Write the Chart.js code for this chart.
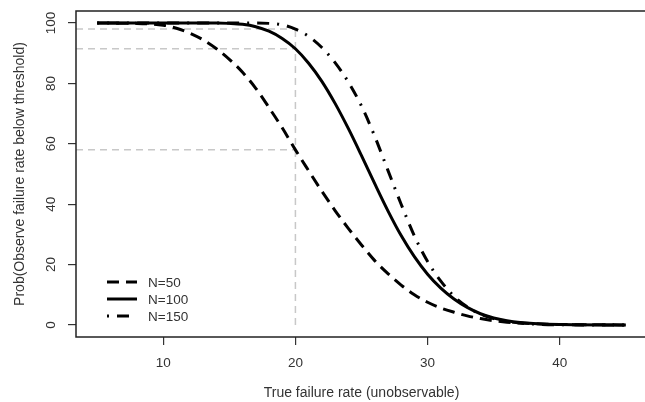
<!DOCTYPE html>
<html>
<head>
<meta charset="utf-8">
<script src="https://cdn.jsdelivr.net/npm/chart.js@4.4.1/dist/chart.umd.min.js"></script>
<style>
  html, body { margin: 0; padding: 0; background: #fff; overflow: hidden; }
  #wrap { width: 660px; height: 402px; }
</style>
</head>
<body>
<div id="wrap"><canvas id="c" width="660" height="402"></canvas></div>
<script>
// ---- Data ----
const xValues   = [5, 8, 10, 11, 12, 13, 14, 15, 16, 17, 18, 19, 20, 21, 22, 23, 24, 25, 26, 27, 28, 29, 30, 31, 32, 33, 34, 35, 36, 37, 38, 40, 45];
const probN50   = [100, 99.9, 99.3, 98.3, 96.7, 94.5, 91.6, 88.0, 83.7, 78.4, 72.0, 65.3, 58.0, 51.1, 44.3, 37.9, 32.0, 26.5, 21.3, 17.0, 13.2, 10.0, 7.5, 5.6, 4.2, 3.0, 2.1, 1.4, 0.9, 0.6, 0.4, 0.15, 0];
const probN100  = [100, 100, 100, 100, 100, 100, 100, 99.9, 99.6, 98.8, 97.3, 94.9, 91.5, 86.7, 80.7, 73.4, 65.1, 56.1, 46.8, 37.8, 29.6, 22.6, 16.8, 12.2, 8.6, 5.8, 3.7, 2.3, 1.4, 0.8, 0.45, 0.12, 0];
const probN150  = [100, 100, 100, 100, 100, 100, 100, 100, 100, 100, 99.9, 99.4, 98.0, 95.6, 91.9, 86.9, 80.5, 72.5, 62.5, 51.2, 40.0, 29.5, 21.0, 14.5, 9.5, 6.0, 3.6, 2.1, 1.2, 0.6, 0.3, 0.05, 0];
const seriesLabels = ["N=50", "N=100", "N=150"];
const refX      = 20;               // vertical reference at true rate 20
const refLevels = [58, 91.5, 98];   // horizontal reference levels
const xTicks    = [10, 20, 30, 40];
const yTicks    = [0, 20, 40, 60, 80, 100];
const xTitle    = "True failure rate (unobservable)";
const yTitle    = "Prob(Observe failure rate below threshold)";

// ---- Styling ----
const FONT = '"Liberation Sans", Arial, sans-serif';
const TXT = '#333';
const TICK_PX = 13.5, TITLE_PX = 14;
const dashes = [[12, 7], [], [2, 8, 12, 8]];
const seriesData = [probN50, probN100, probN150];

const toPts = (ys) => xValues.map((x, i) => ({ x: x, y: ys[i] }));

const datasets = [];
seriesData.forEach((ys, i) => {
  datasets.push({
    label: seriesLabels[i],
    data: toPts(ys),
    borderColor: '#000',
    borderWidth: 3,
    borderDash: dashes[i],
    borderCapStyle: 'butt',
    pointRadius: 0,
    cubicInterpolationMode: 'monotone',
    fill: false,
    order: 1
  });
});
const X_MIN = 3.4, X_MAX = 46.6, Y_MIN = -4, Y_MAX = 104;
// reference lines (gray dashed)
datasets.push({
  label: 'ref-v',
  data: [{ x: refX, y: 0 }, { x: refX, y: Math.max(...refLevels) }],
  borderColor: '#c8c8c8', borderWidth: 1.5, borderDash: [7, 5],
  pointRadius: 0, fill: false, order: 10
});
refLevels.forEach((lv) => {
  datasets.push({
    label: 'ref-h',
    data: [{ x: X_MIN, y: lv }, { x: refX, y: lv }],
    borderColor: '#c8c8c8', borderWidth: 1.5, borderDash: [7, 5],
    pointRadius: 0, fill: false, order: 10
  });
});

const decor = {
  id: 'decor',
  afterDatasetsDraw(chart) {
    const ctx = chart.ctx;
    const a = chart.chartArea;
    const ys = chart.scales.y;
    ctx.save();
    // box
    ctx.strokeStyle = '#222';
    ctx.lineWidth = 1.5;
    ctx.setLineDash([]);
    ctx.strokeRect(a.left, a.top, a.right - a.left, a.bottom - a.top);

    // y tick labels (rotated like R)
    ctx.fillStyle = TXT;
    ctx.font = TICK_PX + 'px ' + FONT;
    ctx.textAlign = 'center';
    ctx.textBaseline = 'middle';
    ys.ticks.forEach((t) => {
      const py = ys.getPixelForValue(t.value);
      ctx.save();
      ctx.translate(51, py);
      ctx.rotate(-Math.PI / 2);
      ctx.fillText(String(t.value), 0, 0);
      ctx.restore();
    });

    // axis titles
    ctx.font = TITLE_PX + 'px ' + FONT;
    ctx.fillText(xTitle, (a.left + a.right) / 2, 393);
    ctx.save();
    ctx.translate(20, (a.top + a.bottom) / 2);
    ctx.rotate(-Math.PI / 2);
    ctx.fillText(yTitle, 0, 0);
    ctx.restore();

    // legend
    ctx.font = TICK_PX + 'px ' + FONT;
    const lx0 = 107, lx1 = 137, rows = [282, 299, 316];
    seriesLabels.forEach((lab, i) => {
      ctx.beginPath();
      ctx.setLineDash(dashes[i]);
      ctx.lineWidth = 3;
      ctx.lineCap = 'butt';
      ctx.strokeStyle = '#000';
      ctx.moveTo(lx0, rows[i]);
      ctx.lineTo(lx1, rows[i]);
      ctx.stroke();
      ctx.setLineDash([]);
      ctx.textAlign = 'left';
      ctx.fillText(lab, 148, rows[i] + 1);
    });
    ctx.restore();
  }
};

new Chart(document.getElementById('c'), {
  type: 'line',
  data: { datasets: datasets },
  plugins: [decor],
  options: {
    responsive: false,
    animation: false,
    devicePixelRatio: 1,
    layout: { padding: { left: 0, top: 11, right: 13, bottom: 0 } },
    plugins: { legend: { display: false }, tooltip: { enabled: false } },
    scales: {
      x: {
        type: 'linear', min: X_MIN, max: X_MAX,
        afterBuildTicks: (s) => { s.ticks = xTicks.map(v => ({ value: v })); },
        afterFit: (s) => { s.height = 65; },
        border: { display: false },
        grid: { drawOnChartArea: false, drawTicks: true, tickLength: 8, tickColor: '#333', lineWidth: 1.2 },
        ticks: { color: TXT, font: { family: FONT, size: TICK_PX }, padding: 10, maxRotation: 0, autoSkip: false }
      },
      y: {
        type: 'linear', min: Y_MIN, max: Y_MAX,
        afterBuildTicks: (s) => { s.ticks = yTicks.map(v => ({ value: v })); },
        afterFit: (s) => { s.width = 76; },
        border: { display: false },
        grid: { drawOnChartArea: false, drawTicks: true, tickLength: 8, tickColor: '#333', lineWidth: 1.2 },
        ticks: { display: false }
      }
    }
  }
});
</script>
</body>
</html>
